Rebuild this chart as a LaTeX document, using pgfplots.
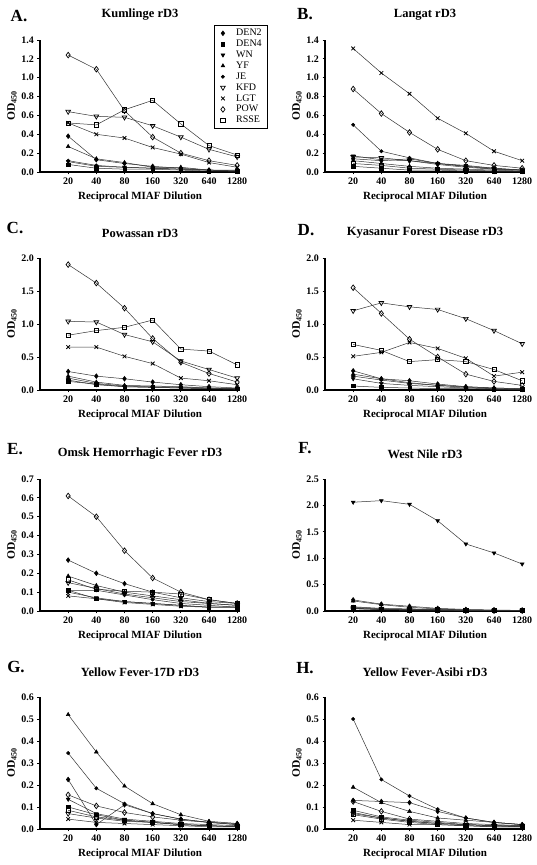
\documentclass[border=0pt]{standalone}
\usepackage{fontspec}
\setmainfont{Liberation Serif}
\usepackage{pgfplots}
\usepackage{pgfplotstable}
\pgfplotsset{compat=1.18}

\pgfplotstableread{
x den2 den4 wn yf je kfd lgt pow rsse
1 0.38 0.08 0.11 0.27 0.12 0.64 0.52 1.24 0.52
2 0.13 0.04 0.06 0.14 0.07 0.59 0.40 1.09 0.50
3 0.09 0.03 0.05 0.10 0.05 0.58 0.36 0.65 0.66
4 0.06 0.03 0.04 0.05 0.04 0.49 0.26 0.37 0.76
5 0.04 0.02 0.03 0.05 0.03 0.37 0.19 0.20 0.51
6 0.02 0.01 0.02 0.02 0.02 0.24 0.10 0.12 0.28
7 0.02 0.01 0.01 0.01 0.01 0.16 0.05 0.07 0.18
}\tA
\pgfplotstableread{
x den2 den4 wn yf je kfd lgt pow rsse
1 0.14 0.06 0.17 0.12 0.50 0.16 1.31 0.88 0.09
2 0.12 0.04 0.13 0.09 0.22 0.15 1.05 0.62 0.07
3 0.14 0.02 0.12 0.06 0.15 0.12 0.83 0.42 0.04
4 0.09 0.02 0.09 0.04 0.09 0.08 0.57 0.24 0.03
5 0.06 0.01 0.07 0.03 0.06 0.05 0.41 0.12 0.02
6 0.04 0.01 0.04 0.02 0.03 0.03 0.22 0.07 0.01
7 0.02 0.01 0.02 0.01 0.02 0.02 0.12 0.04 0.01
}\tB
\pgfplotstableread{
x den2 den4 wn yf je kfd lgt pow rsse
1 0.28 0.13 0.15 0.21 0.18 1.04 0.65 1.90 0.83
2 0.21 0.09 0.08 0.12 0.10 1.03 0.65 1.62 0.90
3 0.17 0.05 0.05 0.07 0.06 0.84 0.51 1.24 0.95
4 0.12 0.04 0.04 0.06 0.05 0.73 0.40 0.78 1.06
5 0.08 0.03 0.03 0.05 0.04 0.44 0.18 0.42 0.62
6 0.05 0.02 0.02 0.03 0.03 0.31 0.14 0.25 0.59
7 0.03 0.02 0.01 0.02 0.02 0.18 0.08 0.12 0.38
}\tC
\pgfplotstableread{
x den2 den4 wn yf je kfd lgt pow rsse
1 0.29 0.06 0.17 0.24 0.21 1.20 0.51 1.55 0.69
2 0.17 0.04 0.10 0.17 0.15 1.32 0.57 1.16 0.60
3 0.14 0.03 0.07 0.11 0.10 1.26 0.72 0.77 0.43
4 0.09 0.02 0.05 0.07 0.07 1.22 0.63 0.50 0.46
5 0.05 0.02 0.03 0.05 0.04 1.08 0.48 0.24 0.43
6 0.03 0.01 0.02 0.03 0.02 0.90 0.21 0.13 0.31
7 0.02 0.01 0.01 0.02 0.01 0.70 0.27 0.07 0.14
}\tD
\pgfplotstableread{
x den2 den4 wn yf je kfd lgt pow rsse
1 0.27 0.11 0.10 0.185 0.11 0.15 0.08 0.61 0.165
2 0.20 0.065 0.07 0.135 0.11 0.12 0.065 0.50 0.115
3 0.145 0.05 0.05 0.10 0.085 0.09 0.045 0.32 0.105
4 0.10 0.04 0.04 0.08 0.06 0.07 0.035 0.175 0.10
5 0.07 0.03 0.03 0.06 0.04 0.05 0.025 0.10 0.09
6 0.05 0.02 0.02 0.04 0.03 0.04 0.02 0.06 0.06
7 0.04 0.02 0.02 0.03 0.02 0.03 0.02 0.04 0.04
}\tE
\pgfplotstableread{
x den2 den4 wn yf je kfd lgt pow rsse
1 0.21 0.07 2.06 0.19 0.08 0.05 0.04 0.05 0.05
2 0.13 0.04 2.09 0.12 0.05 0.03 0.03 0.03 0.03
3 0.09 0.03 2.02 0.07 0.04 0.02 0.02 0.02 0.02
4 0.05 0.02 1.71 0.04 0.03 0.02 0.02 0.02 0.02
5 0.03 0.01 1.27 0.02 0.02 0.01 0.01 0.01 0.01
6 0.02 0.01 1.10 0.01 0.01 0.01 0.01 0.01 0.01
7 0.01 0.01 0.89 0.01 0.01 0.01 0.01 0.01 0.01
}\tF
\pgfplotstableread{
x den2 den4 wn yf je kfd lgt pow rsse
1 0.225 0.10 0.135 0.52 0.345 0.07 0.045 0.155 0.085
2 0.02 0.065 0.07 0.35 0.185 0.05 0.03 0.105 0.055
3 0.11 0.04 0.045 0.195 0.115 0.035 0.025 0.075 0.04
4 0.07 0.03 0.035 0.115 0.07 0.03 0.02 0.055 0.03
5 0.045 0.02 0.025 0.065 0.045 0.02 0.015 0.04 0.02
6 0.03 0.015 0.02 0.035 0.03 0.015 0.01 0.03 0.015
7 0.025 0.01 0.015 0.025 0.02 0.01 0.01 0.02 0.01
}\tG
\pgfplotstableread{
x den2 den4 wn yf je kfd lgt pow rsse
1 0.13 0.085 0.075 0.19 0.50 0.07 0.04 0.125 0.065
2 0.125 0.055 0.05 0.12 0.225 0.05 0.03 0.08 0.045
3 0.12 0.04 0.035 0.08 0.15 0.035 0.02 0.045 0.03
4 0.08 0.03 0.025 0.05 0.09 0.025 0.02 0.035 0.02
5 0.05 0.02 0.02 0.04 0.05 0.02 0.015 0.025 0.015
6 0.03 0.015 0.015 0.03 0.03 0.015 0.01 0.02 0.01
7 0.02 0.01 0.01 0.02 0.02 0.015 0.01 0.015 0.01
}\tH

\pgfplotsset{
  ser/.style={line width=0.5pt, color=black!80},
  den2/.style={ser, mark=diamond*, mark size=2.4pt, mark options={solid, fill=black, draw=black}},
  den4/.style={ser, mark=square*, mark size=1.7pt, mark options={solid, fill=black, draw=black}},
  wn/.style={ser, mark=triangle*, mark size=2.2pt, mark options={solid, fill=black, draw=black, rotate=180}},
  yf/.style={ser, mark=triangle*, mark size=2.2pt, mark options={solid, fill=black, draw=black}},
  je/.style={ser, mark=*, mark size=1.7pt, mark options={solid, fill=black, draw=black}},
  kfd/.style={ser, mark=triangle, mark size=2.7pt, mark options={solid, fill=white, draw=black, line width=0.7pt, rotate=180}},
  lgt/.style={ser, mark=x, mark size=2.6pt, mark options={solid, draw=black, line width=0.8pt}},
  pow/.style={ser, mark=diamond, mark size=2.8pt, mark options={solid, fill=white, draw=black, line width=0.7pt}},
  rsse/.style={ser, mark=square, mark size=2.1pt, mark options={solid, fill=white, draw=black, line width=0.7pt}},
  panel/.style={
    scale only axis, width=200pt, height=132pt,
    xmin=0, xmax=7.1, ymin=0,
    axis x line=bottom, axis y line=left,
    axis line style={line width=1.2pt, -},
    xtick={1,2,3,4,5,6,7}, xticklabels={20,40,80,160,320,640,1280},
    tick align=outside, major tick length=2.5pt,
    tick style={line width=0.9pt, black},
    /pgf/number format/assume math mode=true,
    ticklabel style={font=\bfseries\fontsize{10}{11}\selectfont},
    yticklabel style={/pgf/number format/.cd, fixed, fixed zerofill, precision=1},
    xlabel={Reciprocal MIAF Dilution},
    ylabel={OD\textsubscript{450}},
    xlabel style={font=\bfseries\fontsize{11}{12}\selectfont, at={(axis description cs:0.5,-0.19)}, anchor=center},
    ylabel style={font=\bfseries\fontsize{11.5}{12}\selectfont, at={(axis description cs:-0.14,0.5)}, anchor=center},
    title style={font=\bfseries\fontsize{12.5}{14}\selectfont, at={(axis description cs:0.5,1)}, anchor=center, yshift=19pt},
    clip=false,
    legend image code/.code={\node[minimum width=16pt, minimum height=6pt, inner sep=0pt, anchor=west] at (0pt,0pt) {}; \path[##1] plot coordinates {(5pt,0pt)};},
  },
}

\newcommand{\allseries}[1]{%
  \addplot[den2] table[x=x,y=den2]{#1};
  \addplot[den4] table[x=x,y=den4]{#1};
  \addplot[wn] table[x=x,y=wn]{#1};
  \addplot[yf] table[x=x,y=yf]{#1};
  \addplot[je] table[x=x,y=je]{#1};
  \addplot[kfd] table[x=x,y=kfd]{#1};
  \addplot[lgt] table[x=x,y=lgt]{#1};
  \addplot[pow] table[x=x,y=pow]{#1};
  \addplot[rsse] table[x=x,y=rsse]{#1};
}

\begin{document}
\begin{tikzpicture}
\useasboundingbox (0,0) rectangle (537pt,865pt);

% A
\begin{axis}[panel, at={(40pt,693pt)}, anchor=south west,
  ymax=1.4, ytick={0,0.2,0.4,0.6,0.8,1.0,1.2,1.4},
  title={Kumlinge rD3},
  legend style={at={(axis description cs:1.14,1.11)}, anchor=north east,
    draw=black, line width=0.5pt, font=\fontsize{10}{10}\selectfont,
    cells={anchor=west}, row sep=-1.2pt, inner xsep=4pt, inner ysep=1.5pt},
  legend entries={DEN2,DEN4,WN,YF,JE,KFD,LGT,POW,RSSE}]
\allseries{\tA}
\end{axis}

% B
\begin{axis}[panel, at={(325pt,693pt)}, anchor=south west,
  ymax=1.4, ytick={0,0.2,0.4,0.6,0.8,1.0,1.2,1.4},
  title={Langat rD3}]
\allseries{\tB}
\end{axis}

% C
\begin{axis}[panel, at={(40pt,475pt)}, anchor=south west,
  ymax=2.0, ytick={0,0.5,1.0,1.5,2.0},
  title={Powassan rD3}]
\allseries{\tC}
\end{axis}

% D
\begin{axis}[panel, at={(325pt,475pt)}, anchor=south west,
  ymax=2.0, ytick={0,0.5,1.0,1.5,2.0},
  title={Kyasanur Forest Disease rD3}]
\allseries{\tD}
\end{axis}

% E
\begin{axis}[panel, at={(40pt,254pt)}, anchor=south west,
  ymax=0.7, ytick={0,0.1,0.2,0.3,0.4,0.5,0.6,0.7},
  title={Omsk Hemorrhagic Fever rD3}]
\allseries{\tE}
\end{axis}

% F
\begin{axis}[panel, at={(325pt,254pt)}, anchor=south west,
  ymax=2.5, ytick={0,0.5,1.0,1.5,2.0,2.5},
  title={West Nile rD3}]
\allseries{\tF}
\end{axis}

% G
\begin{axis}[panel, at={(40pt,36pt)}, anchor=south west,
  ymax=0.6, ytick={0,0.1,0.2,0.3,0.4,0.5,0.6},
  title={Yellow Fever-17D rD3}]
\allseries{\tG}
\end{axis}

% H
\begin{axis}[panel, at={(325pt,36pt)}, anchor=south west,
  ymax=0.6, ytick={0,0.1,0.2,0.3,0.4,0.5,0.6},
  title={Yellow Fever-Asibi rD3}]
\allseries{\tH}
\end{axis}

\begin{scope}[every node/.style={font=\bfseries\fontsize{17}{19}\selectfont, anchor=center}]
\node at (19pt,849pt) {A.};
\node at (305pt,851pt) {B.};
\node at (15pt,637pt) {C.};
\node at (306pt,635pt) {D.};
\node at (15pt,416pt) {E.};
\node at (305pt,417pt) {F.};
\node at (16pt,198pt) {G.};
\node at (305pt,197pt) {H.};
\end{scope}
\end{tikzpicture}
\end{document}
